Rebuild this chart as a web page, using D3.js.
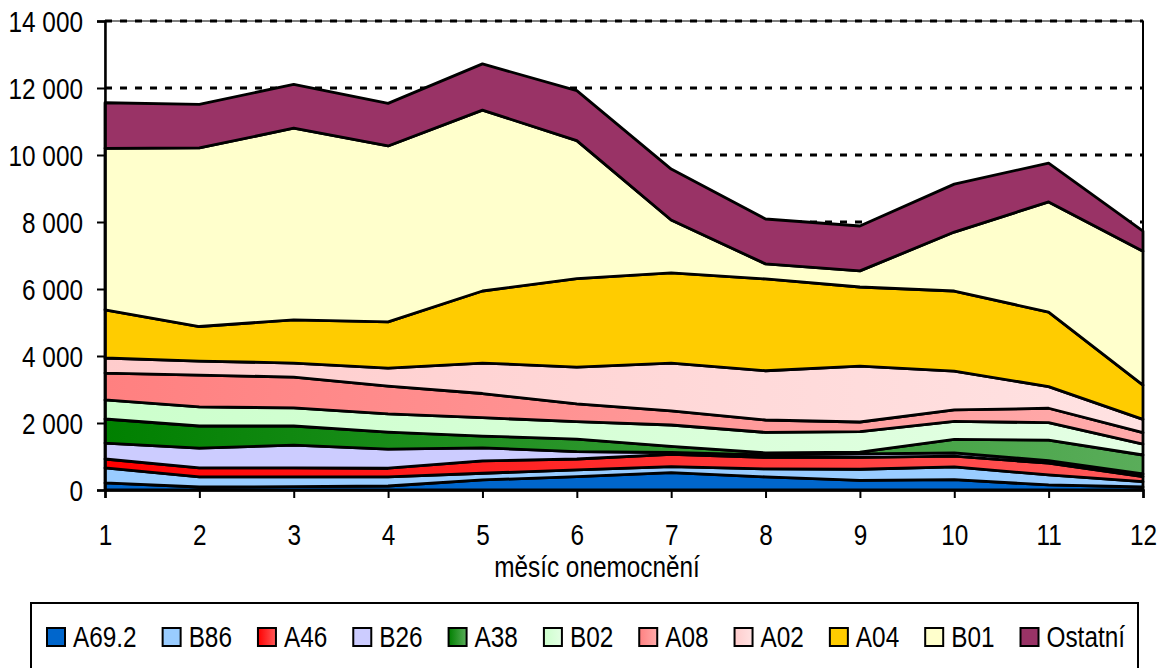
<!DOCTYPE html>
<html><head><meta charset="utf-8">
<script src="https://cdn.jsdelivr.net/npm/d3@7/dist/d3.min.js"></script>
<style>
html,body{margin:0;padding:0;background:#fff;}
svg{display:block;}
text{font-family:"Liberation Sans",Arial,sans-serif;fill:#000;}
</style></head>
<body>
<svg id="chart" width="1165" height="668"></svg>
<script>
// ---- data ----
const months = [1,2,3,4,5,6,7,8,9,10,11,12];
const seriesNames = ["A69.2","B86","A46","B26","A38","B02","A08","A02","A04","B01","Ostatní"];
const A69_2  = [210, 90, 100, 120, 300, 400, 520, 390, 290, 310, 150, 90];
const B86    = [450, 300, 290, 270, 200, 200, 180, 240, 330, 380, 300, 160];
const A46    = [265, 270, 270, 260, 370, 325, 365, 345, 355, 320, 350, 150];
const B26    = [475, 590, 680, 570, 390, 220, 55, 75, 105, 100, 75, 80];
const A38    = [720, 660, 570, 510, 350, 375, 180, 60, 50, 400, 615, 565];
const B02    = [570, 570, 540, 540, 550, 520, 640, 610, 610, 540, 520, 325];
const A08    = [800, 950, 920, 830, 720, 530, 420, 370, 290, 340, 430, 340];
const A02    = [450, 420, 420, 540, 910, 1100, 1430, 1470, 1670, 1160, 645, 400];
const A04    = [1440, 1030, 1290, 1380, 2150, 2640, 2690, 2740, 2360, 2390, 2225, 1020];
const B01    = [4820, 5330, 5720, 5250, 5400, 4120, 1580, 450, 480, 1760, 3290, 4000];
const Ostatni= [1360, 1300, 1310, 1270, 1380, 1490, 1520, 1340, 1340, 1430, 1160, 600];
const yTicks = [0,2000,4000,6000,8000,10000,12000,14000];
const xTitle = "měsíc onemocnění";

const seriesValues = [A69_2,B86,A46,B26,A38,B02,A08,A02,A04,B01,Ostatni];
// colours: [start, end] (horizontal gradient; same = solid)
const colors = {
  "A69.2":["#0066cc","#0066cc"],
  "B86":["#99ccff","#99ccff"],
  "A46":["#ff0000","#ff5a5a"],
  "B26":["#ccccff","#ccccff"],
  "A38":["#008000","#5aad5a"],
  "B02":["#ccffcc","#e4ffe4"],
  "A08":["#ff8080","#ffabab"],
  "A02":["#ffcccc","#ffe2e2"],
  "A04":["#ffcc00","#ffcc00"],
  "B01":["#ffffcc","#ffffcc"],
  "Ostatní":["#993366","#993366"]
};

const rows = months.map((m,i)=>{
  const r = {month:m};
  seriesNames.forEach((n,k)=>{ r[n]=seriesValues[k][i]; });
  return r;
});

const SX = 0.84; // narrow text
const FS = 29;
const svg = d3.select("#chart");
const L=105, R=1143, T=21, B=490;
const x = d3.scaleLinear().domain([1,12]).range([L,R]);
const y = d3.scaleLinear().domain([0,14000]).range([B,T]);

const defs = svg.append("defs");
seriesNames.forEach((n,k)=>{
  const c = colors[n];
  const g1 = defs.append("linearGradient").attr("id","gp"+k)
    .attr("gradientUnits","userSpaceOnUse").attr("x1",L).attr("x2",R).attr("y1",0).attr("y2",0);
  g1.append("stop").attr("offset","0%").attr("stop-color",c[0]);
  g1.append("stop").attr("offset","100%").attr("stop-color",c[1]);
  const g2 = defs.append("linearGradient").attr("id","gl"+k)
    .attr("x1","0").attr("x2","1").attr("y1","0").attr("y2","0");
  g2.append("stop").attr("offset","0%").attr("stop-color",c[0]);
  g2.append("stop").attr("offset","100%").attr("stop-color",c[1]);
});

svg.append("rect").attr("width",1165).attr("height",668).attr("fill","#fff");

// plot border
svg.append("rect").attr("x",L).attr("y",T).attr("width",R-L).attr("height",B-T)
  .attr("fill","#fff").attr("stroke","#808080").attr("stroke-width",2);

// gridlines
const fmt = d3.formatLocale({decimal:",",thousands:"\u00a0",grouping:[3],currency:["",""]}).format(",d");
svg.append("g").selectAll("line").data(yTicks.filter(d=>d>0)).join("line")
  .attr("x1",L).attr("x2",R).attr("y1",d=>y(d)).attr("y2",d=>y(d))
  .attr("stroke","#000").attr("stroke-width",3).attr("stroke-dasharray","7,8");

// stacked areas
const stack = d3.stack().keys(seriesNames);
const layers = stack(rows);
const area = d3.area().x(d=>x(d.data.month)).y0(d=>y(d[0])).y1(d=>y(d[1]));
svg.append("g").selectAll("path").data(layers).join("path")
  .attr("d",area)
  .attr("fill",(d,i)=>"url(#gp"+i+")")
  .attr("stroke","#000").attr("stroke-width",2.8).attr("stroke-linejoin","round");

// right border
svg.append("line").attr("x1",R).attr("x2",R).attr("y1",T).attr("y2",B)
  .attr("stroke","#000").attr("stroke-width",2);

// y axis
const yAxis = svg.append("g").attr("transform",`translate(${L},0)`)
  .call(d3.axisLeft(y).tickValues(yTicks).tickFormat(d=>fmt(d)).tickSize(8));
yAxis.select(".domain").attr("stroke","#000").attr("stroke-width",2.5);
yAxis.selectAll(".tick line").attr("stroke","#000").attr("stroke-width",2);
yAxis.selectAll(".tick text").attr("font-size",FS).attr("font-family",null)
  .attr("x",null).attr("dy","0.36em").attr("transform",`translate(-22,0) scale(${SX},1)`);

// x axis
const xAxis = svg.append("g").attr("transform",`translate(0,${B})`)
  .call(d3.axisBottom(x).tickValues(months).tickFormat(d3.format("d")).tickSize(8));
xAxis.select(".domain").attr("stroke","#000").attr("stroke-width",2.5);
xAxis.selectAll(".tick line").attr("stroke","#000").attr("stroke-width",2);
xAxis.selectAll(".tick text").attr("font-size",FS).attr("font-family",null)
  .attr("y",null).attr("dy",null).attr("transform",`translate(0,55) scale(${SX},1)`);

svg.append("text").attr("transform",`translate(597,577) scale(${SX},1)`).attr("text-anchor","middle")
  .attr("font-size",FS).text(xTitle);

// legend
svg.append("rect").attr("x",31).attr("y",603).attr("width",1107).attr("height",90)
  .attr("fill","#fff").attr("stroke","#000").attr("stroke-width",2);
let lx = 47;
seriesNames.forEach((n,k)=>{
  svg.append("rect").attr("x",lx).attr("y",628).attr("width",18).attr("height",18)
    .attr("fill","url(#gl"+k+")").attr("stroke","#000").attr("stroke-width",2);
  const t = svg.append("text").attr("transform",`translate(${lx+26},647) scale(${SX},1)`)
    .attr("font-size",FS).text(n);
  lx += 26 + t.node().getComputedTextLength()*SX + 26;
});
</script>
</body></html>
